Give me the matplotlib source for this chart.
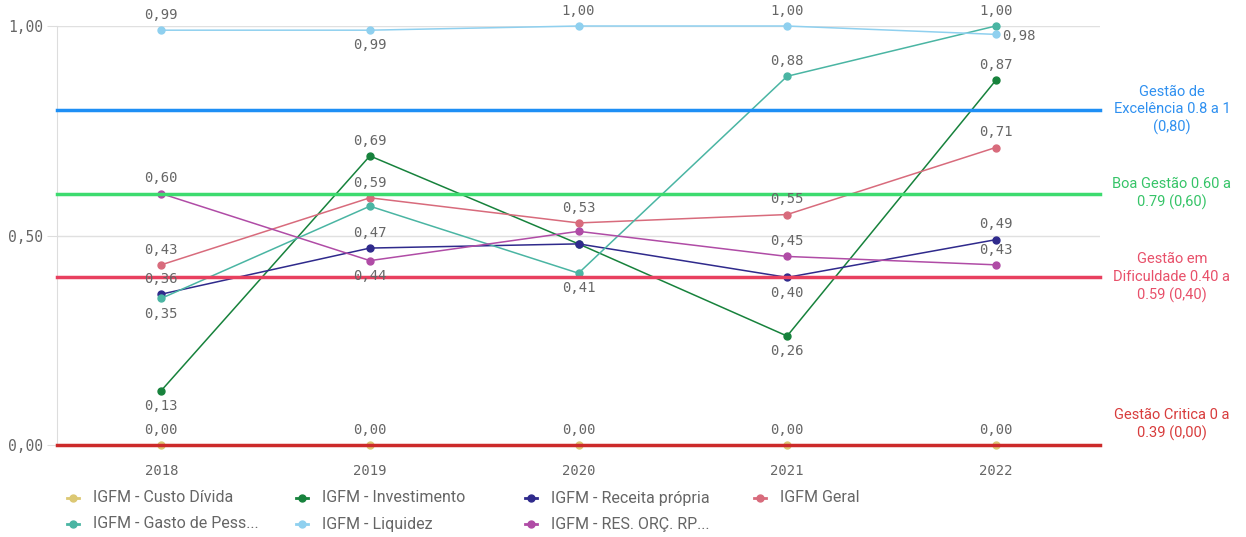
import matplotlib.pyplot as plt
from matplotlib.lines import Line2D

years = ["2018", "2019", "2020", "2021", "2022"]

custo_divida = [0.00, 0.00, 0.00, 0.00, 0.00]
investimento = [0.13, 0.69, 0.48, 0.26, 0.87]
receita_propria = [0.36, 0.47, 0.48, 0.40, 0.49]
geral = [0.43, 0.59, 0.53, 0.55, 0.71]
gasto_pessoal = [0.35, 0.57, 0.41, 0.88, 1.00]
liquidez = [0.99, 0.99, 1.00, 1.00, 0.98]
res_orc = [0.60, 0.44, 0.51, 0.45, 0.43]

band_values = [0.80, 0.60, 0.40, 0.00]
band_labels = ["Gestão de\nExcelência 0.8 a 1\n(0,80)",
               "Boa Gestão 0.60 a\n0.79 (0,60)",
               "Gestão em\nDificuldade 0.40 a\n0.59 (0,40)",
               "Gestão Critica 0 a\n0.39 (0,00)"]

# name, values, colour, where each value label goes (u=above, d=below, r=right, None=hidden)
series = [
    ("IGFM - Custo Dívida", custo_divida, "#dcc873", ["u", "u", "u", "u", "u"]),
    ("IGFM - Investimento", investimento, "#17823c", ["d", "u", None, "d", "u"]),
    ("IGFM - Receita própria", receita_propria, "#2f2a8c", ["u", "u", None, "d", "u"]),
    ("IGFM Geral", geral, "#d86b7c", ["u", "u", "u", "u", "u"]),
    ("IGFM - Gasto de Pess...", gasto_pessoal, "#4ab5a3", ["d", None, "d", "u", "u"]),
    ("IGFM - Liquidez", liquidez, "#8fd0ef", ["u", "d", "u", "u", "r"]),
    ("IGFM - RES. ORÇ. RP...", res_orc, "#b04ca6", ["u", "d", None, "u", "u"]),
]

band_colors = ["#1e8ff5", "#3ddb6f", "#e8405f", "#cc2a2a"]
band_text_colors = ["#2f90f0", "#36c468", "#e8506a", "#d83c3c"]

mono = "DejaVu Sans Mono"
sans = ["Liberation Sans Narrow", "Roboto", "DejaVu Sans"]
grey = "#666666"

W, H = 1246, 537
fig = plt.figure(figsize=(W / 100, H / 100), dpi=100)
ax = fig.add_axes([57 / W, 1 - 445 / H, (1100 - 57) / W, (445 - 26) / H])

x = list(range(len(years)))

for name, vals, col, pos in series:
    ax.plot(x, vals, color=col, lw=1.1, marker="o", ms=5, zorder=3, clip_on=False)
    for xi, v, p in zip(x, vals, pos):
        if p is None:
            continue
        off = {"u": (0, 11), "d": (0, -11), "r": (17, -1)}[p]
        ax.annotate(f"{v:.2f}".replace(".", ","), (xi, v), xytext=off,
                    textcoords="offset points", ha="center", va="center",
                    fontsize=10, family=mono, color=grey, zorder=5)

for val, col, tcol, lab in zip(band_values, band_colors, band_text_colors, band_labels):
    ax.axhline(val, color=col, lw=2.5, zorder=4, clip_on=False)
    ty = val if val > 0 else 0.05
    ax.text(4.845, ty, lab, ha="center", va="center", fontsize=10.5,
            family=sans, color=tcol, linespacing=1.3, clip_on=False)

ax.set_xlim(-0.5, 4.5)
ax.set_ylim(0, 1)
ax.set_xticks(x)
ax.set_xticklabels(years, family=mono, fontsize=10, color=grey)
ax.set_yticks([0, 0.5, 1.0])
ax.set_yticklabels(["0,00", "0,50", "1,00"], family=mono, fontsize=10.5, color=grey)
ax.tick_params(axis="x", length=0, pad=14)
ax.tick_params(axis="y", length=7, color="#dddddd", pad=3)
ax.grid(axis="y", color="#e0e0e0", lw=1)
ax.set_axisbelow(True)
for s in ["top", "right", "bottom"]:
    ax.spines[s].set_visible(False)
ax.spines["left"].set_color("#dddddd")

# legend laid out on a fixed grid: 4 entries per row, equal column width
for i, (name, _, col, _) in enumerate(series):
    row, c = divmod(i, 4)
    lx = 73 + 229 * c
    ly = 498 + 26 * row
    fy = 1 - ly / H
    fig.add_artist(Line2D([(lx - 6) / W, (lx + 6) / W], [fy, fy], color=col, lw=2))
    fig.add_artist(Line2D([lx / W], [fy], color=col, marker="o", ms=5))
    fig.text((lx + 20) / W, fy, name, ha="left", va="center",
             family=sans, fontsize=11.5, color=grey)

fig.savefig("out.png", dpi=100)
